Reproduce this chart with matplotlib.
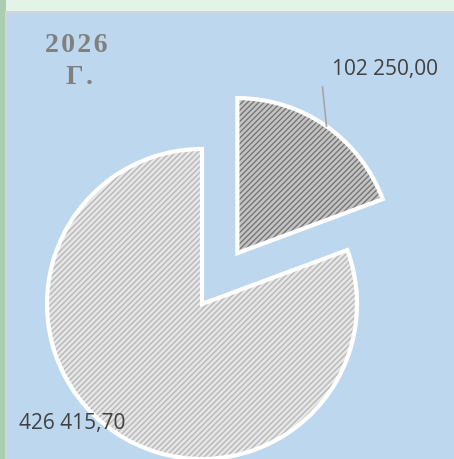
import matplotlib.pyplot as plt
from matplotlib.patches import Rectangle

# data
labels_year = ["2026", "Г."]
values = [102250.00, 426415.70]
fill_colors = ["#C4C4C4", "#E6E6E6"]
hatch_colors = ["#767676", "#B8B8B8"]

W, H = 454, 459


def fmt(v):
    return f"{v:,.2f}".replace(",", " ").replace(".", ",")


fig = plt.figure(figsize=(W / 100, H / 100), dpi=100)
fig.patch.set_facecolor("#E4F3E8")

ax = fig.add_axes([0, 0, 1, 1])

# outer strip + chart area
ax.add_patch(Rectangle((0, 0), 6, H, facecolor="#A9CFB0", edgecolor="none", zorder=0))
ax.add_patch(Rectangle((5, 0), W, H - 11, facecolor="#D4D4D4", edgecolor="none", zorder=1))
ax.add_patch(Rectangle((7, 0), W, H - 13, facecolor="#BDD7EE", edgecolor="none", zorder=2))

center = (202, 155)
radius = 155
# pie explode is in data units here
explode = [0.4 * radius, 0]

# hatched fills
wedges, _ = ax.pie(values, colors=fill_colors, startangle=90, counterclock=False,
                   center=center, radius=radius, explode=explode, frame=True,
                   wedgeprops=dict(linewidth=0))
for w, hc in zip(wedges, hatch_colors):
    w.set_edgecolor(hc)
    w.set_hatch("//////")
    w.set_zorder(3)

# white outlines
outl, _ = ax.pie(values, colors=["none", "none"], startangle=90, counterclock=False,
                 center=center, radius=radius, explode=explode, frame=True,
                 wedgeprops=dict(linewidth=3, edgecolor="white", fill=False))
for w in outl:
    w.set_zorder(4)

ax.set_xlim(0, W)
ax.set_ylim(0, H)
ax.set_aspect("equal")
ax.axis("off")

# value labels
ax.plot([322.5, 326.5], [H - 87, H - 126], color="#A6A6A6", linewidth=1.2, zorder=5)
ax.text(385, H - 69, fmt(values[0]), ha="center", va="center", fontsize=15,
        family="Open Sans", color="#404040", zorder=6)
ax.text(19, H - 423, fmt(values[1]), ha="left", va="center", fontsize=15,
        family="Open Sans", color="#404040", zorder=6)

# title (letter-spaced)
spaced = ["\u200a".join(s) for s in labels_year]
ax.text(76, H - 46, spaced[0], ha="center", va="center", fontsize=20,
        family=["Liberation Serif", "DejaVu Serif"], fontweight="bold",
        color="#808080", zorder=6)
ax.text(80, H - 77, spaced[1], ha="center", va="center", fontsize=20,
        family=["Liberation Serif", "DejaVu Serif"], fontweight="bold",
        color="#808080", zorder=6)

fig.savefig("out.png", dpi=100)
